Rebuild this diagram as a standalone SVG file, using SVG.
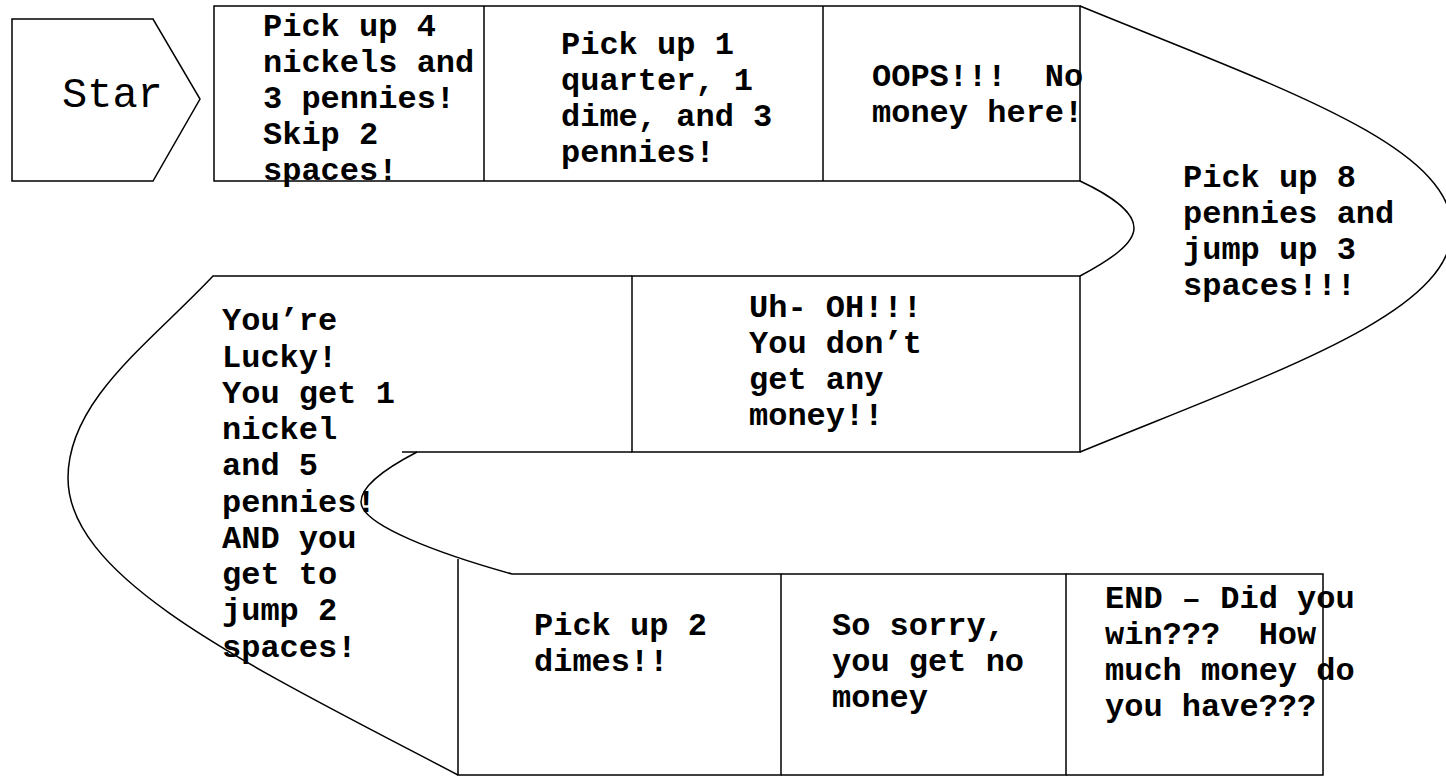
<svg xmlns="http://www.w3.org/2000/svg" width="1446" height="776" viewBox="0 0 1446 776">
<style>
.ln{fill:none;stroke:#000;stroke-width:1.5;stroke-linejoin:miter}
.t{font-family:"Liberation Mono","Courier New",monospace;font-weight:bold;font-size:32px;fill:#000}
.s{font-family:"Liberation Mono","Courier New",monospace;font-size:42px;fill:#000}
</style>
<rect width="1446" height="776" fill="#fff"/>
<g id="start">
<polygon class="ln" points="12,19 153,19 200,99 153,181 12,181"/>
<text class="s" x="62" y="107">Star</text>
</g>
<g id="sq1">
<polyline class="ln" points="484,6 214,6 214,181 484,181"/>
<text class="t"><tspan x="263" y="36">Pick up 4</tspan><tspan x="263" y="72">nickels and</tspan><tspan x="263" y="108">3 pennies!</tspan><tspan x="263" y="144">Skip 2</tspan><tspan x="263" y="180">spaces!</tspan></text>
</g>
<g id="sq2">
<path class="ln" d="M484,6 H823 M484,181 H823 M484,6 V181"/>
<text class="t"><tspan x="561" y="54">Pick up 1</tspan><tspan x="561" y="90">quarter, 1</tspan><tspan x="561" y="126">dime, and 3</tspan><tspan x="561" y="162">pennies!</tspan></text>
</g>
<g id="sq3">
<path class="ln" d="M823,6 H1080 V181 H823 M823,6 V181"/>
<text class="t"><tspan x="872" y="86" xml:space="preserve">OOPS!!!  No</tspan><tspan x="872" y="122">money here!</tspan></text>
</g>
<g id="sq4">
<path class="ln" d="M1080,6 C1280,88 1452,145 1452,229 C1452,313 1280,370 1080,452"/>
<path class="ln" d="M1080,181 C1110,195 1134,212 1134,228 C1134,244 1110,260 1080,276"/>
<text class="t"><tspan x="1183" y="187">Pick up 8</tspan><tspan x="1183" y="223">pennies and</tspan><tspan x="1183" y="259">jump up 3</tspan><tspan x="1183" y="295">spaces!!!</tspan></text>
</g>
<g id="sq5">
<path class="ln" d="M632,276 H1080 V452 H632 Z"/>
<text class="t"><tspan x="749" y="317">Uh- OH!!!</tspan><tspan x="749" y="353">You don’t</tspan><tspan x="749" y="389">get any</tspan><tspan x="749" y="425">money!!</tspan></text>
</g>
<g id="sq6">
<path class="ln" d="M632,276 H213 C150,343 68,400 68,478 C68,580 250,666 458,775"/>
<path class="ln" d="M632,452 H402"/>
<path class="ln" d="M417,452 C390,466 361,485 361,502 C361,525 440,554 512,574"/>
<text class="t"><tspan x="222" y="330">You’re</tspan><tspan x="222" y="367">Lucky!</tspan><tspan x="222" y="403">You get 1</tspan><tspan x="222" y="439">nickel</tspan><tspan x="222" y="475">and 5</tspan><tspan x="222" y="512">pennies!</tspan><tspan x="222" y="548">AND you</tspan><tspan x="222" y="584">get to</tspan><tspan x="222" y="620">jump 2</tspan><tspan x="222" y="657">spaces!</tspan></text>
</g>
<g id="sq7">
<path class="ln" d="M512,574 H781 V775 H458 V559"/>
<text class="t"><tspan x="534" y="635">Pick up 2</tspan><tspan x="534" y="671">dimes!!</tspan></text>
</g>
<g id="sq8">
<path class="ln" d="M781,574 H1066 V775 H781"/>
<text class="t"><tspan x="832" y="635">So sorry,</tspan><tspan x="832" y="671">you get no</tspan><tspan x="832" y="707">money</tspan></text>
</g>
<g id="end">
<path class="ln" d="M1066,574 H1323 V775 H1066"/>
<text class="t"><tspan x="1105" y="608">END – Did you</tspan><tspan x="1105" y="644" xml:space="preserve">win???  How</tspan><tspan x="1105" y="680">much money do</tspan><tspan x="1105" y="716">you have???</tspan></text>
</g>
</svg>
